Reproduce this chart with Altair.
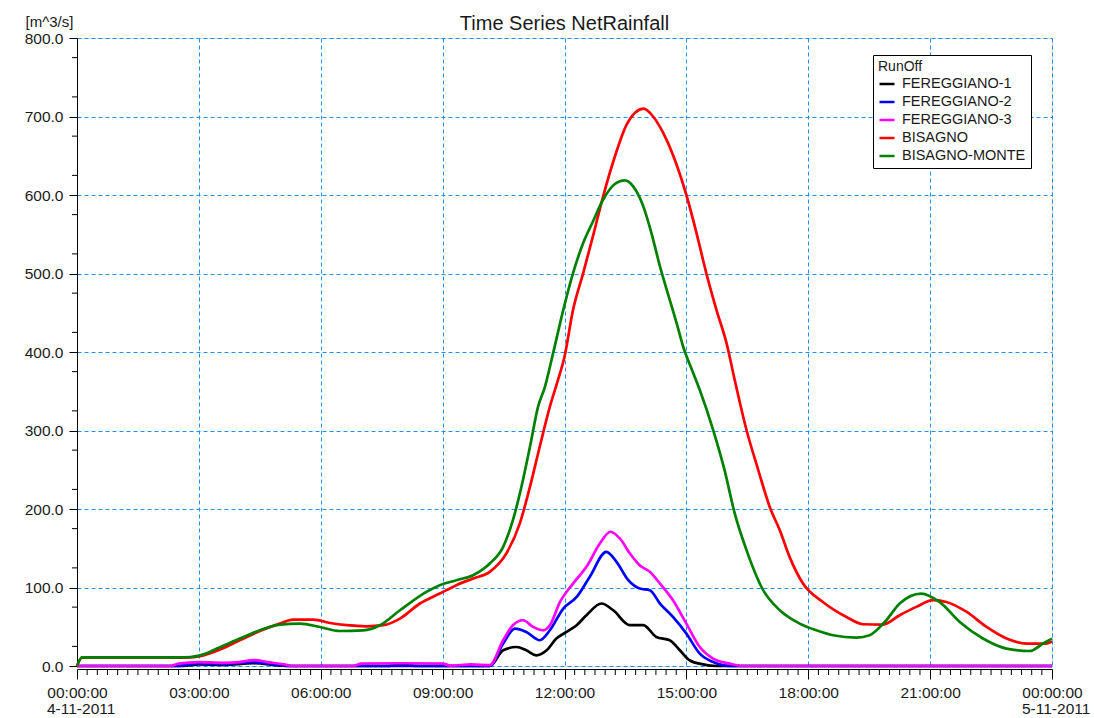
import altair as alt
import pandas as pd

series_names = ["FEREGGIANO-1", "FEREGGIANO-2", "FEREGGIANO-3", "BISAGNO", "BISAGNO-MONTE"]
series_colors = ["#000000", "#0000ff", "#ff00ff", "#ff0000", "#008000"]

f1_hours = [0, 2.6, 3.0, 3.6, 4.35, 5.0, 5.2, 7.6, 8.0, 8.4, 10.16, 10.49, 10.82, 11.06, 11.31,
            11.56, 11.80, 12.05, 12.3, 12.54, 12.91, 13.2, 13.61, 13.94, 14.26, 14.59, 14.84,
            15.08, 15.41, 15.74, 24]
f1_values = [0, 0, 2, 1.5, 3.5, 0.5, 0, 0, 1.5, 0, 0, 20, 24.2, 20, 13.6,
             20, 35, 43.4, 52, 64.7, 79.6, 71, 52, 52, 37, 32.8, 20,
             7.3, 2, 0, 0]

f2_hours = [0, 2.4, 3.0, 3.6, 4.35, 5.0, 5.3, 10.16, 10.49, 10.78, 11.06, 11.39, 11.64, 11.97,
            12.3, 12.62, 13.03, 13.28, 13.57, 13.85, 14.1, 14.35, 14.67, 15.0, 15.33, 15.66,
            16.07, 24]
f2_values = [0, 0, 3, 2.5, 5, 1, 0, 0, 28.6, 47.7, 43.4, 32.8, 45.5, 73.2,
             88, 113.5, 145.4, 132.7, 109.3, 98.7, 96.6, 79.6, 62.5, 41.3, 15.8, 5,
             0, 0]

f3_hours = [0, 2.3, 2.5, 3.0, 3.6, 4.0, 4.35, 4.7, 5.1, 5.3, 6.8, 7.0, 8.0, 9.0, 9.2, 9.7,
            10.16, 10.49, 10.73, 10.98, 11.23, 11.47, 11.64, 11.89, 12.21, 12.54, 12.87,
            13.13, 13.36, 13.61, 13.85, 14.1, 14.35, 14.67, 15.0, 15.33, 15.66, 16.07, 16.4, 24]
f3_values = [0, 0, 3, 5, 4, 5, 7.5, 5, 2, 0, 0, 3, 3.5, 3, 0.5, 2,
             1, 32.8, 52, 58.3, 49.7, 45.5, 52, 81.6, 105, 126.3, 156,
             171, 162.5, 143.4, 128.4, 120, 105, 83.8, 54, 24.2, 9.4, 3, 0, 0]

bis_hours = [0, 0.12, 1.0, 2.0, 2.5, 2.8, 3.03, 3.52, 4.01, 4.5, 4.99, 5.32, 5.82, 6.23, 6.64,
             7.13, 7.54, 7.95, 8.44, 8.93, 9.34, 9.75, 10.16, 10.57, 10.9, 11.15, 11.39, 11.64,
             11.84, 12.0, 12.21, 12.46, 12.72, 12.95, 13.24, 13.53, 13.95, 14.18, 14.43, 14.67,
             15.0, 15.25, 15.49, 15.74, 15.99, 16.19, 16.48, 16.77, 17.05, 17.3, 17.54, 17.87,
             18.36, 18.94, 19.35, 19.84, 20.25, 20.66, 21.08, 21.4, 21.9, 22.39, 22.88, 23.37,
             23.86, 24.0]
bis_values = [0, 10.5, 10.5, 10.5, 10.5, 11, 12.4, 20.9, 32.8, 44.6, 54, 59.2, 59.2, 54.8, 52,
              50.6, 52, 60.4, 79.6, 92.3, 103, 111.5, 120, 143.4, 181.6, 228.3, 279.3, 330.4,
              364.4, 394, 453.7, 500.5, 551.5, 598, 649, 689.7, 710, 700, 679, 651,
              600, 551.5, 500.5, 453.7, 411, 364.4, 300.6, 249.6, 202.8, 173, 139, 105,
              81.6, 62.5, 53.2, 52.8, 64.7, 75.3, 83.8, 81.6, 68.9, 49.7, 35, 28.6,
              28.6, 31]

mon_hours = [0, 0.12, 1.0, 2.0, 2.5, 2.8, 3.03, 3.52, 4.01, 4.5, 4.99, 5.49, 5.98, 6.47, 7.04,
             7.46, 7.95, 8.6, 8.93, 9.34, 9.75, 10.16, 10.49, 10.73, 10.94, 11.15, 11.35, 11.52,
             11.72, 11.97, 12.21, 12.46, 12.70, 12.95, 13.24, 13.48, 13.69, 13.94, 14.14, 14.35,
             14.59, 14.76, 14.92, 15.17, 15.33, 15.66, 15.94, 16.19, 16.48, 16.89, 17.3, 17.79,
             18.2, 18.61, 19.19, 19.51, 19.92, 20.25, 20.78, 21.23, 21.73, 22.3, 22.88, 23.45,
             23.78, 24.0]
mon_values = [0, 11, 11, 11, 11, 11.5, 13.6, 24, 35, 45.5, 52.8, 54, 49.7, 44.6, 45.5,
              52, 71, 94.4, 103, 109.3, 115.7, 130.6, 151.8, 185.8, 228.3, 279.3, 330.4, 356,
              398.5, 453.7, 500.5, 538.8, 566.3, 594, 614, 618.6, 611, 585.5, 551.5, 509,
              466.5, 436.7, 407, 373, 351.7, 300.6, 249.6, 194.4, 147.6, 96.6, 71, 54,
              45.5, 39.2, 36.2, 39.2, 58.3, 79.6, 92.3, 81.6, 56.1, 35, 22.2, 19.1,
              28.6, 35]

x_major = [0, 3, 6, 9, 12, 15, 18, 21, 24]
x_minor = [q / 4 for q in range(0, 97) if q % 12 != 0]
y_major = list(range(0, 801, 50))
y_minor = list(range(25, 800, 50))
date_hours = [0, 24]
date_labels = ["4-11-2011", "5-11-2011"]

rows = []
for name, hrs, vals in zip(series_names,
                           [f1_hours, f2_hours, f3_hours, bis_hours, mon_hours],
                           [f1_values, f2_values, f3_values, bis_values, mon_values]):
    for h, v in zip(hrs, vals):
        rows.append({"series": name, "hour": h, "flow": v})
df = pd.DataFrame(rows)

W, H = 975, 628
FONT = "Liberation Sans"
TXT = "#1a1a1a"
GRID = "#1e8fff"

xscale = alt.Scale(domain=[0, 24], nice=False, zero=False)
yscale = alt.Scale(domain=[0, 800], nice=False)

lines = alt.Chart(df).mark_line(strokeWidth=2.7, interpolate="monotone").encode(
    x=alt.X("hour:Q", scale=xscale, axis=alt.Axis(
        values=x_major, title=None, grid=True, gridDash=[4, 3], gridColor=GRID, gridWidth=1,
        domainColor="black", tickColor="black", tickSize=10, offset=3, labelFlush=False,
        labelFontSize=15.5, labelFont=FONT, labelColor=TXT, labelPadding=6,
        labelExpr="(datum.value % 24 < 10 ? '0' : '') + (datum.value % 24) + ':00:00'")),
    y=alt.Y("flow:Q", scale=yscale, axis=alt.Axis(
        values=y_major, format=".1f", grid=True, gridDash=[4, 3], gridColor=GRID, gridWidth=1,
        domainColor="black", tickColor="black", tickSize=8, labelFlush=False,
        labelFontSize=15.5, labelFont=FONT, labelColor=TXT, labelPadding=6,
        title="[m^3/s]", titleAngle=0, titleX=-52, titleY=-17, titleAlign="left",
        titleBaseline="middle", titleFontSize=15, titleFontWeight="normal", titleFont=FONT,
        titleColor=TXT)),
    color=alt.Color("series:N", scale=alt.Scale(domain=series_names, range=series_colors),
                    legend=alt.Legend(
                        title="RunOff", orient="none", legendX=796, legendY=17,
                        symbolType="stroke", symbolSize=225, symbolStrokeWidth=2.5,
                        strokeColor="black", fillColor="white", padding=5, cornerRadius=0,
                        labelFontSize=14.5, titleFontSize=14, titleFontWeight="normal",
                        labelFont=FONT, titleFont=FONT, labelColor=TXT, titleColor=TXT,
                        rowPadding=2, titlePadding=1, labelOffset=6)),
)

yminor = alt.Chart(pd.DataFrame({"v": y_minor})).mark_rule(color="black", strokeWidth=1).encode(
    y=alt.Y("v:Q", scale=yscale), x=alt.value(-5), x2=alt.value(0))

xminor = alt.Chart(pd.DataFrame({"h": x_minor})).mark_rule(color="black", strokeWidth=1).encode(
    x=alt.X("h:Q", scale=xscale), y=alt.value(H + 4), y2=alt.value(H + 9))

dates = alt.Chart(pd.DataFrame({"h": date_hours, "t": date_labels})).mark_text(
    align="left", baseline="middle", dx=-30, fontSize=15.5, font=FONT, color=TXT
).encode(x=alt.X("h:Q", scale=xscale), y=alt.value(H + 43), text="t:N")

chart = alt.layer(lines, yminor, xminor, dates).properties(
    width=W, height=H,
    title=alt.TitleParams("Time Series NetRainfall", fontSize=20, fontWeight="normal",
                          font=FONT, color=TXT, anchor="middle", offset=-20),
    autosize=alt.AutoSizeParams(type="none"),
    padding={"left": 77, "top": 38, "right": 42, "bottom": 52},
).configure_view(stroke="black", strokeWidth=1).configure(background="white")

chart.save("out.html", embed_options={"renderer": "svg", "actions": False})
